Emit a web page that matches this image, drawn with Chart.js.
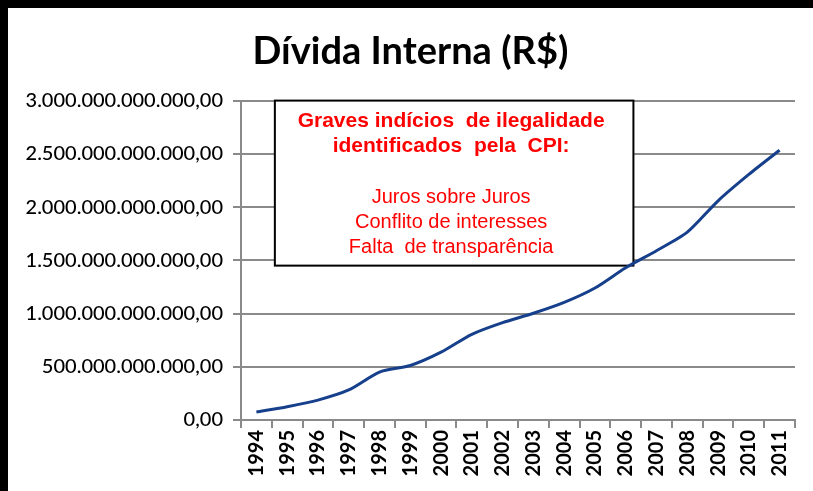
<!DOCTYPE html>
<html>
<head>
<meta charset="utf-8">
<script src="https://cdn.jsdelivr.net/npm/chart.js@4/dist/chart.umd.min.js"></script>
<style>
  html, body { margin: 0; padding: 0; background: #fff; }
  #wrap { position: relative; width: 813px; height: 491px; overflow: hidden; }
  #frame {
    position: absolute; left: 0; top: 0; width: 813px; height: 491px;
    box-sizing: border-box; border-top: 8px solid #000; border-left: 8px solid #000;
    pointer-events: none;
  }
</style>
</head>
<body>
<div id="wrap">
  <canvas id="chartDivida" width="813" height="491"></canvas>
  <div id="frame"></div>
</div>
<script>
// dados
const years = ['1994', '1995', '1996', '1997', '1998', '1999', '2000', '2001', '2002',
  '2003', '2004', '2005', '2006', '2007', '2008', '2009', '2010', '2011'];
const debtValues = [75e9, 125e9, 187e9, 282e9, 450e9, 512e9, 637e9, 805e9, 915e9,
  1003e9, 1105e9, 1240e9, 1430e9, 1590e9, 1764e9, 2059e9, 2307e9, 2534e9];
const yTicks = [0, 5e11, 1e12, 1.5e12, 2e12, 2.5e12, 3e12];
const noteTitle = ['Graves indícios  de ilegalidade', 'identificados  pela  CPI:'];
const noteItems = ['Juros sobre Juros', 'Conflito de interesses', 'Falta  de transparência'];

// caixa de texto (em unidades dos eixos)
const noteBox = { from: 0.6, to: 12.25, bottom: 1.45e12 };

function formatBR(v) {
  const int = Math.round(v).toString().replace(/\B(?=(\d{3})+(?!\d))/g, '.');
  return int + ',00';
}

const notePlugin = {
  id: 'notaCPI',
  afterLayout(chart) {
    // título um pouco à direita, como no original
    const t = chart.titleBlock;
    if (t) { t.left += 13; t.right += 13; }
  },
  beforeDatasetsDraw(chart) {
    const { ctx, scales: { x, y } } = chart;
    const left = x.getPixelForValue(noteBox.from);
    const right = x.getPixelForValue(noteBox.to);
    const top = y.getPixelForValue(3e12);
    const bottom = y.getPixelForValue(noteBox.bottom);
    ctx.save();
    ctx.fillStyle = '#fff';
    ctx.fillRect(left, top, right - left, bottom - top);
    ctx.strokeStyle = '#000';
    ctx.lineWidth = 2;
    ctx.strokeRect(left, top, right - left, bottom - top);

    const cx = (left + right) / 2 - 3;
    ctx.fillStyle = '#ff0000';
    ctx.textAlign = 'center';
    ctx.textBaseline = 'alphabetic';
    const step = 25.3;
    let base = top + 26;
    ctx.font = 'bold 21px "Liberation Sans", sans-serif';
    noteTitle.forEach(t => { ctx.fillText(t, cx, base); base += step; });
    base += step;
    ctx.font = '20px "Liberation Sans", sans-serif';
    noteItems.forEach(t => { ctx.fillText(t, cx, base); base += step; });
    ctx.restore();
  }
};

const ctx = document.getElementById('chartDivida');

new Chart(ctx, {
  type: 'line',
  data: {
    labels: years,
    datasets: [{
      label: 'Dívida Interna',
      data: debtValues,
      borderColor: '#163f8c',
      borderWidth: 3,
      pointRadius: 0,
      tension: 0.25,
      fill: false
    }]
  },
  options: {
    responsive: false,
    animation: false,
    devicePixelRatio: 1,
    layout: { padding: { left: 0, right: 18, top: 0, bottom: 0 } },
    plugins: {
      legend: { display: false },
      tooltip: { enabled: false },
      title: {
        display: true,
        text: 'Dívida Interna (R$)',
        color: '#000',
        font: { family: 'Lato', size: 38, weight: 'bold' },
        padding: { top: 29, bottom: 26 }
      }
    },
    scales: {
      x: {
        offset: true,
        afterFit: s => { s.height = 71; },
        grid: {
          offset: true,
          drawOnChartArea: false,
          drawTicks: true,
          tickLength: 8,
          color: '#8a8a8a',
          lineWidth: 2
        },
        border: { color: '#8a8a8a', width: 2 },
        ticks: {
          autoSkip: false,
          minRotation: 90,
          maxRotation: 90,
          padding: 2,
          color: '#000',
          font: { family: 'Lato', size: 20, weight: 'bold' }
        }
      },
      y: {
        min: 0,
        max: 3e12,
        afterFit: s => { s.width = 241; },
        afterBuildTicks: s => { s.ticks = yTicks.map(v => ({ value: v })); },
        grid: {
          color: '#8a8a8a',
          lineWidth: 2,
          tickLength: 8
        },
        border: { color: '#8a8a8a', width: 2 },
        ticks: {
          padding: 10,
          color: '#000',
          font: { family: 'Lato', size: 20, weight: '500' },
          callback: v => formatBR(v)
        }
      }
    }
  },
  plugins: [notePlugin]
});
</script>
</body>
</html>
